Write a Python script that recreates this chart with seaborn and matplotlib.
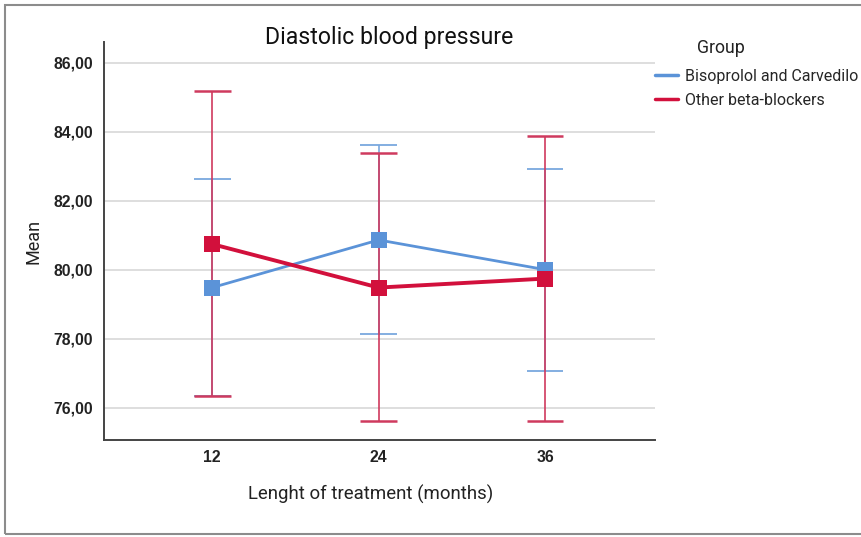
import matplotlib
matplotlib.use("Agg")
import matplotlib.pyplot as plt
from matplotlib.lines import Line2D
from matplotlib.patches import Rectangle
import numpy as np
import pandas as pd
import seaborn as sns

# Diastolic blood pressure: group means with 95% CI bounds
months = ["12", "24", "36"]
groups = ["Bisoprolol and Carvedilo", "Other beta-blockers"]
bis_mean = [79.48, 80.86, 80.00]
bis_low = [76.35, 78.13, 77.07]
bis_high = [82.63, 83.61, 82.93]
oth_mean = [80.74, 79.48, 79.74]
oth_low = [76.34, 75.62, 75.62]
oth_high = [85.18, 83.37, 83.88]
yticks = [76, 78, 80, 82, 84, 86]

colors = {groups[0]: "#5b93d8", groups[1]: "#d2103c"}
bar_colors = {groups[0]: "#7aa8de", groups[1]: "#cf3a5e"}

df = pd.DataFrame({
    "month": months * 2,
    "group": [groups[0]] * 3 + [groups[1]] * 3,
    "mean": bis_mean + oth_mean,
    "low": bis_low + oth_low,
    "high": bis_high + oth_high,
})

sns.set_style("white")
plt.rcParams["font.family"] = ["Roboto", "DejaVu Sans"]

fig = plt.figure(figsize=(8.61, 5.37), dpi=100)
ax = fig.add_axes([0.1208, 0.1806, 0.6399, 0.7412])

# confidence interval whiskers with caps
xpos = {m: i for i, m in enumerate(months)}
for g in groups:
    sub = df[df["group"] == g]
    x = sub["month"].map(xpos).to_numpy()
    cap_lw = 1.8 if g == groups[1] else 1.3
    ax.vlines(x, sub["low"], sub["high"], color=bar_colors[g], lw=1.2, zorder=2)
    ax.hlines(sub["low"], x - 0.11, x + 0.11, color=bar_colors[g], lw=cap_lw, zorder=2)
    ax.hlines(sub["high"], x - 0.11, x + 0.11, color=bar_colors[g], lw=cap_lw, zorder=2)

# mean lines with square markers
for g, lw in zip(groups, [2.0, 2.8]):
    sub = df[df["group"] == g]
    sns.lineplot(x=sub["month"].map(xpos), y=sub["mean"], color=colors[g], lw=lw,
                 marker="s", markersize=12, markeredgewidth=0, ax=ax, zorder=3)

ax.set_xlim(-0.65, 2.66)
ax.set_ylim(75.06, 86.6)
ax.set_xticks(range(len(months)))
ax.set_xticklabels(months)
ax.set_yticks(yticks)
ax.set_yticklabels([f"{v:.2f}".replace(".", ",") for v in yticks])
for lab in ax.get_xticklabels() + ax.get_yticklabels():
    lab.set_fontfamily(["Liberation Sans", "DejaVu Sans"])
    lab.set_fontweight("bold")
    lab.set_fontsize(11.3)
    lab.set_color("#222222")
ax.tick_params(length=0, pad=8)
ax.tick_params(axis="x", pad=7)
ax.yaxis.grid(True, color="#d4d4d4", lw=1.1)
ax.set_axisbelow(True)
for s in ["top", "right"]:
    ax.spines[s].set_visible(False)
for s in ["left", "bottom"]:
    ax.spines[s].set_color("#444444")
    ax.spines[s].set_linewidth(1.4)

ax.set_xlabel("Lenght of treatment (months)", fontsize=13.4, color="#222222")
ax.xaxis.set_label_coords(0.4837, -0.113)
ax.set_ylabel("Mean", fontsize=13, color="#222222", labelpad=8)
fig.text(0.4524, 0.931, "Diastolic blood pressure", ha="center", va="center",
         fontsize=16.6, color="#111111")

# group legend
fig.text(0.809, 0.91, "Group", ha="left", va="center", fontsize=12.8, color="#222222")
handles = [Line2D([0], [0], color=colors[g], lw=2.5) for g in groups]
fig.legend(handles, groups, loc="upper left", bbox_to_anchor=(0.7607, 0.872),
           frameon=False, fontsize=11.5, handlelength=1.45, handletextpad=0.4,
           labelspacing=0.55, borderaxespad=0, borderpad=0)

# outer frame
fig.patches.append(Rectangle((5 / 861, 3 / 537), 1.2, 529 / 537, transform=fig.transFigure,
                             fill=False, edgecolor="#8c8c8c", lw=1.5))

fig.savefig("out.png", dpi=100)
